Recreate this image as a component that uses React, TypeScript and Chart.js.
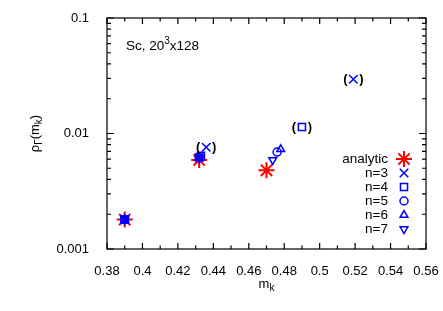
import React, { useEffect, useRef } from 'react';
import { Chart, registerables } from 'chart.js';
import { drawPoint } from 'chart.js/helpers';

Chart.register(...registerables);

// ---- data ----
const analyticM = [0.39, 0.432, 0.47];
const analyticRho = [0.0018, 0.0059, 0.0048];
const n3M = [0.39, 0.432, 0.436, 0.519];
const n3Rho = [0.0018, 0.0062, 0.0076, 0.0295];
const n3Paren = [false, false, true, true];
const n4M = [0.39, 0.433, 0.49];
const n4Rho = [0.0018, 0.0064, 0.0114];
const n4Paren = [false, false, true];
const n5M = [0.39, 0.432, 0.476];
const n5Rho = [0.0018, 0.0062, 0.0069];
const n6M = [0.39, 0.432, 0.478];
const n6Rho = [0.0018, 0.0062, 0.0073];
const n7M = [0.39, 0.432, 0.4735];
const n7Rho = [0.0018, 0.0061, 0.0059];

const seriesNames = ['analytic', 'n=3', 'n=4', 'n=5', 'n=6', 'n=7'];
const xMin = 0.38;
const xMax = 0.56;
const xStep = 0.01;
const yMin = 0.001;
const yMax = 0.1;
const yMajorTickLabels = ['0.001', '0.01', '0.1'];
const annotationText = ['Sc, 20', '3', 'x128'];

const FONT = "'Liberation Sans', Arial, Helvetica, sans-serif";
const BLUE = '#0000ff';
const RED = '#ff0000';

const styles = [
  { pointStyle: 'star', radius: 8, rotation: 0, color: RED, borderWidth: 2 },
  { pointStyle: 'crossRot', radius: 6, rotation: 0, color: BLUE, borderWidth: 1.5 },
  { pointStyle: 'rect', radius: 5, rotation: 0, color: BLUE, borderWidth: 1.5 },
  { pointStyle: 'circle', radius: 4, rotation: 0, color: BLUE, borderWidth: 1.5 },
  { pointStyle: 'triangle', radius: 4.5, rotation: 0, color: BLUE, borderWidth: 1.5 },
  { pointStyle: 'triangle', radius: 4.5, rotation: 180, color: BLUE, borderWidth: 1.5 },
];

const toPts = (xs: number[], ys: number[]) => xs.map((x, i) => ({ x, y: ys[i] }));
const seriesData = [
  toPts(analyticM, analyticRho),
  toPts(n3M, n3Rho),
  toPts(n4M, n4Rho),
  toPts(n5M, n5Rho),
  toPts(n6M, n6Rho),
  toPts(n7M, n7Rho),
];
const parenFlags: (boolean[] | null)[] = [null, n3Paren, n4Paren, null, null, null];

function drawRich(ctx: CanvasRenderingContext2D, parts: { t: string; dy: number; size: number }[], x: number, y: number, align: 'left' | 'center') {
  let total = 0;
  for (const p of parts) {
    ctx.font = `${p.size}px ${FONT}`;
    total += ctx.measureText(p.t).width;
  }
  let cx = align === 'center' ? x - total / 2 : x;
  ctx.textAlign = 'left';
  ctx.textBaseline = 'alphabetic';
  for (const p of parts) {
    ctx.font = `${p.size}px ${FONT}`;
    ctx.fillText(p.t, cx, y + p.dy);
    cx += ctx.measureText(p.t).width;
  }
}

const decorPlugin = {
  id: 'decor',
  beforeDatasetsDraw(chart: any) {
    const { ctx, chartArea: a, scales } = chart;
    const xs = scales.x;
    const ys = scales.y;
    ctx.save();
    ctx.strokeStyle = '#000';
    ctx.lineWidth = 1.2;
    ctx.strokeRect(a.left, a.top, a.right - a.left, a.bottom - a.top);
    ctx.beginPath();
    xs.ticks.forEach((t: any) => {
      const px = xs.getPixelForValue(t.value);
      const major = t.label !== '' && t.label != null;
      const len = major ? 6 : 3.5;
      ctx.moveTo(px, a.bottom);
      ctx.lineTo(px, a.bottom - len);
      ctx.moveTo(px, a.top);
      ctx.lineTo(px, a.top + len);
    });
    for (let e = -3; e <= -1; e++) {
      for (let m = 1; m <= 9; m++) {
        const v = m * Math.pow(10, e);
        if (v > yMax * 1.0001) break;
        const py = ys.getPixelForValue(v);
        const len = m === 1 ? 7 : 4;
        ctx.moveTo(a.left, py);
        ctx.lineTo(a.left + len, py);
        ctx.moveTo(a.right, py);
        ctx.lineTo(a.right - len, py);
      }
    }
    ctx.stroke();
    ctx.restore();
  },
  afterDatasetsDraw(chart: any) {
    const { ctx, chartArea: a, scales } = chart;
    const xs = scales.x;
    const ys = scales.y;
    ctx.save();
    ctx.fillStyle = '#000';
    ctx.font = `bold 13px ${FONT}`;
    ctx.textAlign = 'center';
    ctx.textBaseline = 'middle';
    parenFlags.forEach((flags, si) => {
      if (!flags) return;
      seriesData[si].forEach((p, i) => {
        if (!flags[i]) return;
        const px = xs.getPixelForValue(p.x);
        const py = ys.getPixelForValue(p.y);
        ctx.fillText('(', px - 8, py);
        ctx.fillText(')', px + 8, py);
      });
    });
    ctx.fillStyle = '#000';
    drawRich(ctx, [
      { t: annotationText[0], dy: 0, size: 13.5 },
      { t: annotationText[1], dy: -6, size: 10 },
      { t: annotationText[2], dy: 0, size: 13.5 },
    ], a.left + 19, a.top + 32, 'left');
    const textRight = a.right - 38;
    const markX = a.right - 22;
    seriesNames.forEach((name, i) => {
      const y = a.top + 141 + i * 14;
      ctx.fillStyle = '#000';
      ctx.font = `13.5px ${FONT}`;
      ctx.textAlign = 'right';
      ctx.textBaseline = 'middle';
      ctx.fillText(name, textRight, y);
      const s = styles[i];
      ctx.strokeStyle = s.color;
      ctx.fillStyle = 'rgba(0,0,0,0)';
      ctx.lineWidth = s.borderWidth;
      drawPoint(ctx, { pointStyle: s.pointStyle, radius: s.radius, rotation: s.rotation, borderWidth: s.borderWidth } as any, markX, y);
    });
    ctx.fillStyle = '#000';
    drawRich(ctx, [
      { t: 'm', dy: 0, size: 13 },
      { t: 'k', dy: 3, size: 10 },
    ], (a.left + a.right) / 2, 288, 'center');
    ctx.save();
    ctx.translate(39, (a.top + a.bottom) / 2);
    ctx.rotate(-Math.PI / 2);
    drawRich(ctx, [
      { t: 'ρ', dy: 0, size: 13 },
      { t: 'Γ', dy: 3, size: 10 },
      { t: '(m', dy: 0, size: 13 },
      { t: 'k', dy: 3, size: 10 },
      { t: ')', dy: 0, size: 13 },
    ], 0, 0, 'center');
    ctx.restore();
    ctx.restore();
  },
};

export default function App() {
  const ref = useRef<HTMLCanvasElement | null>(null);
  useEffect(() => {
    document.body.style.margin = '0';
    if (!ref.current) return;
    const datasets = seriesData.map((d, i) => ({
      label: seriesNames[i],
      data: d,
      pointStyle: styles[i].pointStyle,
      pointRadius: styles[i].radius,
      pointRotation: styles[i].rotation,
      pointBorderWidth: styles[i].borderWidth,
      borderColor: styles[i].color,
      backgroundColor: 'rgba(0,0,0,0)',
      showLine: false,
      order: i === 0 ? 1 : 0,
    }));
    const chart = new Chart(ref.current, {
      type: 'scatter',
      data: { datasets },
      options: {
        responsive: false,
        animation: false,
        devicePixelRatio: 1,
        layout: { padding: { top: 18, right: 17, left: 0, bottom: 0 } },
        plugins: { legend: { display: false }, tooltip: { enabled: false } },
        scales: {
          x: {
            type: 'linear',
            min: xMin,
            max: xMax,
            grid: { display: false },
            border: { display: false },
            ticks: {
              stepSize: xStep,
              autoSkip: false,
              maxRotation: 0,
              padding: 7,
              color: '#000',
              font: { family: FONT, size: 13 },
              callback: (v: any) => {
                const k = Math.round((Number(v) - xMin) / xStep);
                return k % 2 === 0 ? String(parseFloat(Number(v).toFixed(2))) : '';
              },
            },
            afterFit: (s: any) => {
              s.height = 62;
              s.paddingLeft = 0;
              s.paddingRight = 0;
            },
          },
          y: {
            type: 'logarithmic',
            min: yMin,
            max: yMax,
            grid: { display: false },
            border: { display: false },
            ticks: {
              autoSkip: false,
              padding: 10,
              color: '#000',
              font: { family: FONT, size: 13 },
              callback: (v: any) => {
                const l = Math.log10(Number(v));
                const e = Math.round(l);
                if (Math.abs(l - e) > 1e-6) return '';
                return yMajorTickLabels[e + 3] ?? '';
              },
            },
            afterFit: (s: any) => {
              s.width = 107;
              s.paddingTop = 0;
              s.paddingBottom = 0;
            },
          },
        },
      },
      plugins: [decorPlugin],
    } as any);
    return () => chart.destroy();
  }, []);
  return (
    <div style={{ width: 443, height: 311 }}>
      <canvas ref={ref} width={443} height={311} style={{ display: 'block' }} />
    </div>
  );
}
